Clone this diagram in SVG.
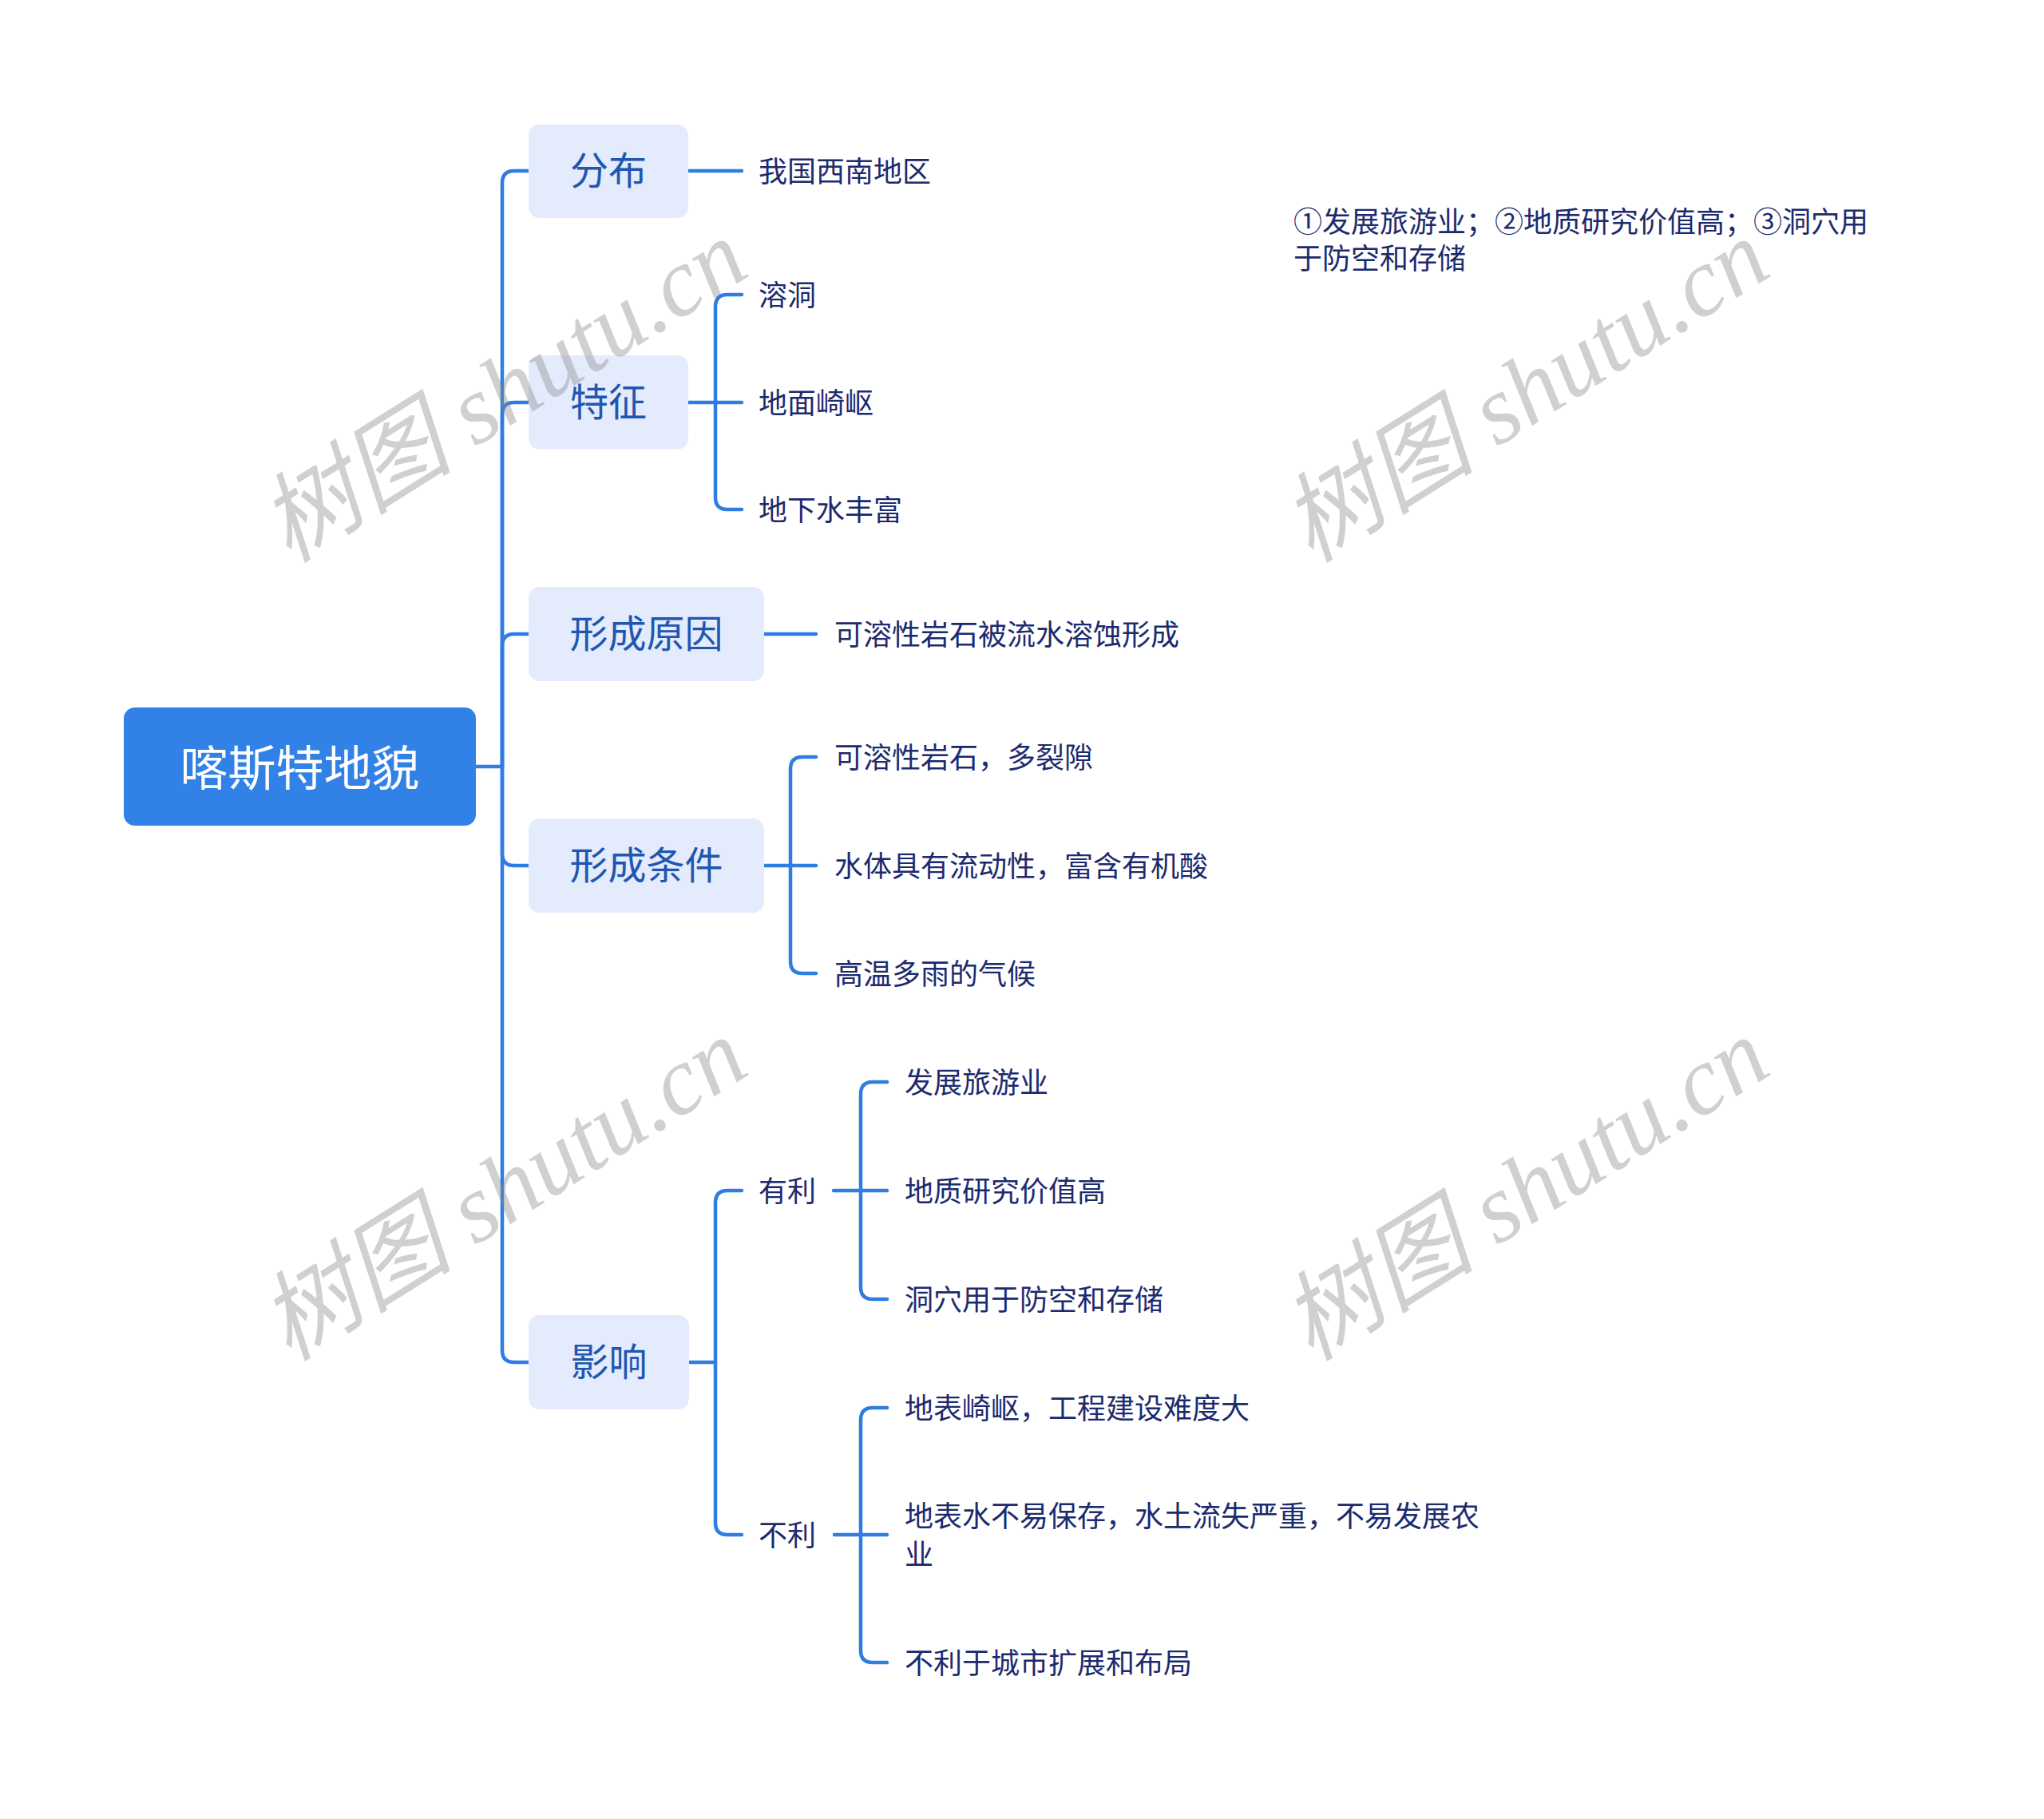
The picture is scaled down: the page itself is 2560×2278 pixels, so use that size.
<svg xmlns="http://www.w3.org/2000/svg" width="2560" height="2278" viewBox="0 0 2560 2278">
<style>
.cn{fill:none;stroke:#2f7de2;stroke-width:4.5;stroke-linecap:round;stroke-linejoin:round}
.t{font-family:"Noto Sans CJK SC","Noto Sans",sans-serif;dominant-baseline:central}
.root{fill:#ffffff;font-size:60px;text-anchor:middle}
.l1{fill:#1f56b0;font-size:48px;text-anchor:middle}
.lf{fill:#1c2a6e;font-size:36px}
.b1{fill:#e3ebfc}
.wm{font-family:"Liberation Serif","Noto Sans CJK SC",serif;font-style:italic;font-size:122px;fill:#8a8a8a;fill-opacity:0.4}
</style>
<rect width="2560" height="2278" fill="#ffffff"/>
<g id="connectors">
<path class="cn" d="M596 960 H629"/>
<path class="cn" d="M629 960 V229 Q629 214 644 214 H662"/>
<path class="cn" d="M629 960 V519 Q629 504 644 504 H662"/>
<path class="cn" d="M629 960 V809 Q629 794 644 794 H662"/>
<path class="cn" d="M629 960 V1069 Q629 1084 644 1084 H662"/>
<path class="cn" d="M629 960 V1691 Q629 1706 644 1706 H662"/>
<path class="cn" d="M862 214 H929"/>
<path class="cn" d="M862 504 H896"/>
<path class="cn" d="M896 504 V384 Q896 369 911 369 H929"/>
<path class="cn" d="M896 504 H929"/>
<path class="cn" d="M896 504 V623 Q896 638 911 638 H929"/>
<path class="cn" d="M957 794 H1022"/>
<path class="cn" d="M957 1084 H990"/>
<path class="cn" d="M990 1084 V963 Q990 948 1005 948 H1022"/>
<path class="cn" d="M990 1084 H1022"/>
<path class="cn" d="M990 1084 V1204 Q990 1219 1005 1219 H1022"/>
<path class="cn" d="M863 1706 H896"/>
<path class="cn" d="M896 1706 V1506 Q896 1491 911 1491 H929"/>
<path class="cn" d="M896 1706 V1907 Q896 1922 911 1922 H929"/>
<path class="cn" d="M1044 1491 H1078"/>
<path class="cn" d="M1078 1491 V1370 Q1078 1355 1093 1355 H1111"/>
<path class="cn" d="M1078 1491 H1111"/>
<path class="cn" d="M1078 1491 V1612 Q1078 1627 1093 1627 H1111"/>
<path class="cn" d="M1045 1922 H1078"/>
<path class="cn" d="M1078 1922 V1778 Q1078 1763 1093 1763 H1111"/>
<path class="cn" d="M1078 1922 H1111"/>
<path class="cn" d="M1078 1922 V2067 Q1078 2082 1093 2082 H1111"/>
</g>
<g id="root">
<rect x="155" y="886" width="441" height="148" rx="14" fill="#3281e6"/>
<text class="t root" x="375.5" y="957">喀斯特地貌</text>
</g>
<g id="n-fenbu">
<rect class="b1" x="662" y="156" width="200" height="117" rx="14"/>
<text class="t l1" x="762" y="210">分布</text>
</g>
<g id="n-tezheng">
<rect class="b1" x="662" y="445" width="200" height="118" rx="14"/>
<text class="t l1" x="762" y="500">特征</text>
</g>
<g id="n-yuanyin">
<rect class="b1" x="662" y="735" width="295" height="118" rx="14"/>
<text class="t l1" x="809.5" y="790">形成原因</text>
</g>
<g id="n-tiaojian">
<rect class="b1" x="662" y="1025" width="295" height="118" rx="14"/>
<text class="t l1" x="809.5" y="1080">形成条件</text>
</g>
<g id="n-yingxiang">
<rect class="b1" x="662" y="1647" width="201" height="118" rx="14"/>
<text class="t l1" x="762.5" y="1702">影响</text>
</g>
<g id="leaf-1"><text class="t lf" x="950" y="212">我国西南地区</text></g>
<g id="leaf-2"><text class="t lf" x="950" y="367">溶洞</text></g>
<g id="leaf-3"><text class="t lf" x="950" y="502">地面崎岖</text></g>
<g id="leaf-4"><text class="t lf" x="950" y="636">地下水丰富</text></g>
<g id="leaf-5"><text class="t lf" x="1045" y="792">可溶性岩石被流水溶蚀形成</text></g>
<g id="leaf-6"><text class="t lf" x="1045" y="946">可溶性岩石，多裂隙</text></g>
<g id="leaf-7"><text class="t lf" x="1045" y="1082">水体具有流动性，富含有机酸</text></g>
<g id="leaf-8"><text class="t lf" x="1045" y="1217">高温多雨的气候</text></g>
<g id="n-youli"><text class="t lf" x="950" y="1489">有利</text></g>
<g id="leaf-9"><text class="t lf" x="1133" y="1353">发展旅游业</text></g>
<g id="leaf-10"><text class="t lf" x="1133" y="1489">地质研究价值高</text></g>
<g id="leaf-11"><text class="t lf" x="1133" y="1625">洞穴用于防空和存储</text></g>
<g id="n-buli"><text class="t lf" x="950" y="1920">不利</text></g>
<g id="leaf-12"><text class="t lf" x="1133" y="1761">地表崎岖，工程建设难度大</text></g>
<g id="leaf-13"><text class="t lf" x="1133" y="1896">地表水不易保存，水土流失严重，不易发展农</text><text class="t lf" x="1133" y="1944">业</text></g>
<g id="leaf-14"><text class="t lf" x="1133" y="2080">不利于城市扩展和布局</text></g>
<g id="note"><text class="t lf" x="1620" y="275">①发展旅游业；②地质研究价值高；③洞穴用</text><text class="t lf" x="1620" y="321">于防空和存储</text></g>
<g id="watermarks">
<text class="wm" transform="translate(362 706) rotate(-32)">树图 shutu.cn</text>
<text class="wm" transform="translate(1642 706) rotate(-32)">树图 shutu.cn</text>
<text class="wm" transform="translate(362 1706) rotate(-32)">树图 shutu.cn</text>
<text class="wm" transform="translate(1642 1706) rotate(-32)">树图 shutu.cn</text>
</g>
</svg>
